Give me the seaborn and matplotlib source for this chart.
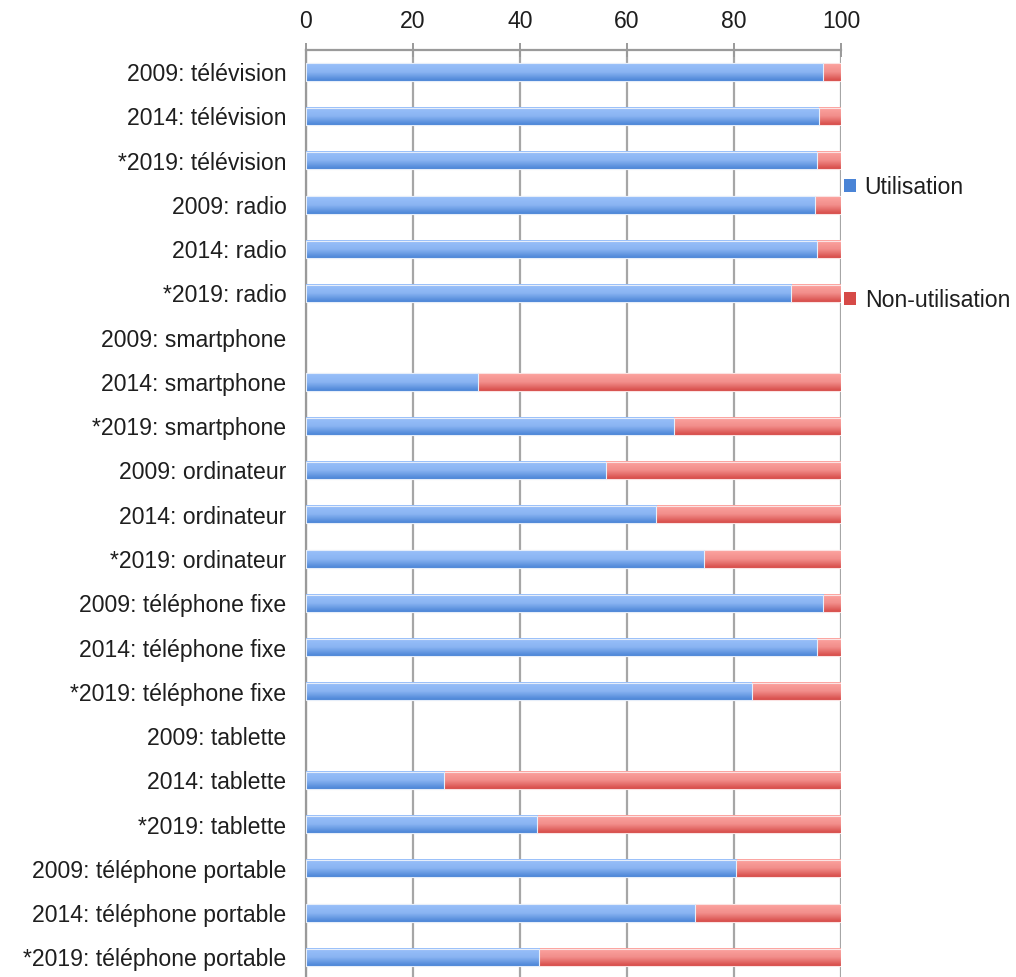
import matplotlib
matplotlib.use('Agg')
import matplotlib.pyplot as plt
from matplotlib.colors import LinearSegmentedColormap
from matplotlib.patches import Patch
import numpy as np
import pandas as pd
import seaborn as sns

sns.set_style('white')
plt.rcParams['font.family'] = ['Liberation Sans', 'DejaVu Sans']

# ── données ───────────────────────────────────────────────────
categories = [
    '2009: télévision', '2014: télévision', '*2019: télévision',
    '2009: radio', '2014: radio', '*2019: radio',
    '2009: smartphone', '2014: smartphone', '*2019: smartphone',
    '2009: ordinateur', '2014: ordinateur', '*2019: ordinateur',
    '2009: téléphone fixe', '2014: téléphone fixe', '*2019: téléphone fixe',
    '2009: tablette', '2014: tablette', '*2019: tablette',
    '2009: téléphone portable', '2014: téléphone portable', '*2019: téléphone portable',
]
utilisation = [96.7, 95.8, 95.5,
               95.1, 95.5, 90.7,
               np.nan, 32.1, 68.7,
               56.0, 65.5, 74.4,
               96.7, 95.5, 83.3,
               np.nan, 25.8, 43.2,
               80.4, 72.8, 43.6]
non_utilisation = [3.3, 4.2, 4.5,
                   4.9, 4.5, 9.3,
                   np.nan, 67.9, 31.3,
                   44.0, 34.5, 25.6,
                   3.3, 4.5, 16.7,
                   np.nan, 74.2, 56.8,
                   19.6, 27.2, 56.4]
series_labels = ['Utilisation', 'Non-utilisation']
x_ticks = [0, 20, 40, 60, 80, 100]

df = pd.DataFrame({'cat': categories, 'u': utilisation, 'n': non_utilisation})
df['total'] = df['u'] + df['n']

BLUE_TOP, BLUE_BOT = '#99c0fa', '#4a84d6'
RED_TOP, RED_BOT = '#fca4a0', '#d64a47'
FS = 16.6

fig = plt.figure(figsize=(10.16, 9.77), dpi=100)
ax = fig.add_axes([306 / 1016, -2.5 / 977, 535 / 1016, 929.5 / 977])

sns.barplot(data=df, y='cat', x='total', order=categories, color=RED_BOT,
            width=0.39, orient='h', ax=ax, errorbar=None)
n_red = len(ax.patches)
sns.barplot(data=df, y='cat', x='u', order=categories, color=BLUE_BOT,
            width=0.39, orient='h', ax=ax, errorbar=None)

# dégradé vertical dans chaque barre
cm_blue = LinearSegmentedColormap.from_list('b', [BLUE_TOP, '#8ab4f2', BLUE_BOT])
cm_red = LinearSegmentedColormap.from_list('r', [RED_TOP, '#f28e8b', RED_BOT])
grad = np.linspace(0, 1, 64).reshape(-1, 1)
for i, p in enumerate(ax.patches):
    w = p.get_width()
    if not np.isfinite(w) or w <= 0:
        continue
    x0, y0, h = p.get_x(), p.get_y(), p.get_height()
    cmap = cm_red if i < n_red else cm_blue
    ax.imshow(grad, cmap=cmap, aspect='auto', origin='upper',
              extent=(x0, x0 + w, y0 + h, y0), zorder=2 + (i >= n_red),
              interpolation='bilinear')
    p.set_facecolor('none')
    p.set_edgecolor('#e6eefa' if i >= n_red else '#fbe3e3')
    p.set_linewidth(0.8)
    p.set_zorder(3 + (i >= n_red))

ax.set_xlim(0, 100)
ax.set_ylim(len(categories) - 0.5, -0.5)
ax.set_xticks(x_ticks)
ax.xaxis.tick_top()
ax.set_xlabel('')
ax.set_ylabel('')
ax.grid(axis='x', color='#a6a6a6', linewidth=1.6, zorder=0)
ax.set_axisbelow(True)
for s in ['right', 'bottom']:
    ax.spines[s].set_visible(False)
for s in ['top', 'left']:
    ax.spines[s].set_color('#9a9a9a')
    ax.spines[s].set_linewidth(1.6)
ax.tick_params(axis='x', direction='inout', length=10, width=1.4, color='#9a9a9a',
               labelsize=FS, labelcolor='#1e1e1e', pad=7)
ax.tick_params(axis='y', length=0, labelsize=FS, labelcolor='#1e1e1e', pad=14)

handles = [Patch(facecolor=BLUE_BOT, edgecolor='none'),
           Patch(facecolor=RED_BOT, edgecolor='none')]
fig.legend(handles, series_labels, loc='upper left',
           bbox_to_anchor=(844 / 1016, (977 - 176) / 977), frameon=False,
           fontsize=FS, labelspacing=3.9, handlelength=0.5, handleheight=0.5,
           handletextpad=0.4, borderpad=0, borderaxespad=0, labelcolor='#1e1e1e')

fig.savefig('out.png', dpi=100)
plt.close(fig)
